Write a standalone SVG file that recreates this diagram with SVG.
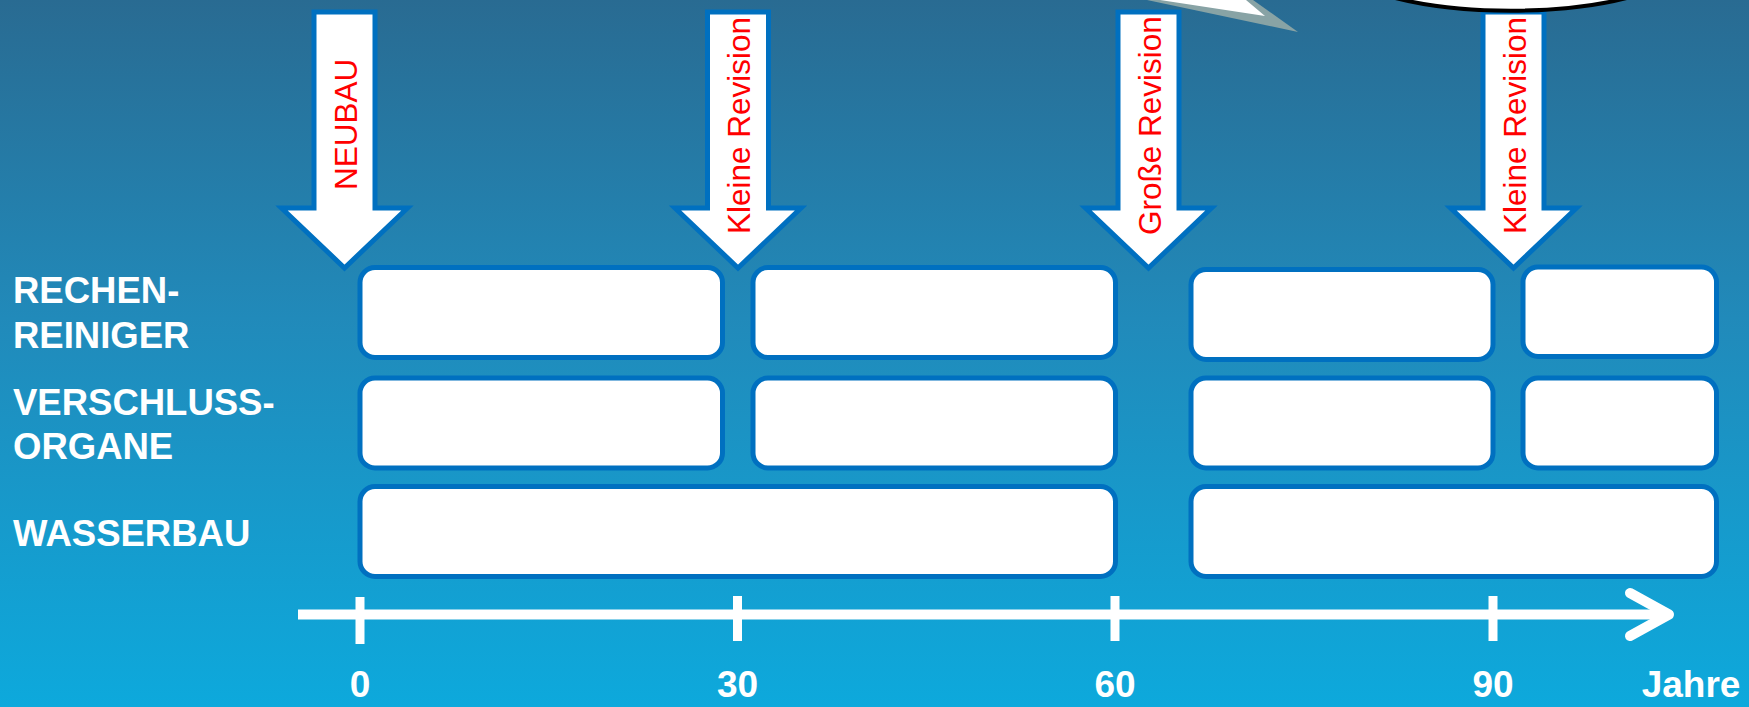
<svg xmlns="http://www.w3.org/2000/svg" width="1749" height="707" viewBox="0 0 1749 707">
  <defs>
    <linearGradient id="bg" x1="0" y1="0" x2="0" y2="1">
      <stop offset="0" stop-color="#296B92"/>
      <stop offset="0.45" stop-color="#218ABA"/>
      <stop offset="1" stop-color="#0DA9DC"/>
    </linearGradient>
    <path id="arrowShape" d="M-30.5,12 H30.5 V208 H63 L0,268 L-63,208 H-30.5 Z"/>
  </defs>
  <style>
    .arrow { fill: #FFFFFF; stroke: #0070C0; stroke-width: 5; stroke-linejoin: miter; }
    .alabel { font-family: "Liberation Sans", Arial, sans-serif; font-size: 31.5px; fill: #FF0000; }
    .box { fill: #FFFFFF; stroke: #0070C0; stroke-width: 5; }
    .rowlabel { font-family: "Liberation Sans", Arial, sans-serif; font-size: 36.5px; font-weight: bold; fill: #FFFFFF; }
    .axislabel { font-family: "Liberation Sans", Arial, sans-serif; font-size: 37px; font-weight: bold; fill: #FFFFFF; text-anchor: middle; }
    .axis { stroke: #FFFFFF; fill: none; }
  </style>

  <rect x="0" y="0" width="1749" height="707" fill="url(#bg)"/>

  <!-- callout fragments at top -->
  <g id="callout-tail">
    <polygon points="1147,0 1298,32 1253,0" fill="#88A3A5"/>
    <polygon points="1160,0 1265,16 1246,0" fill="#FFFFFF"/>
  </g>

  <!-- event arrows -->
  <g id="arrow-neubau">
    <use href="#arrowShape" class="arrow" transform="translate(344.5,0)"/>
    <text class="alabel" transform="translate(357,190) rotate(-90)">NEUBAU</text>
  </g>
  <g id="arrow-kleine-revision-1">
    <use href="#arrowShape" class="arrow" transform="translate(738,0)"/>
    <text class="alabel" transform="translate(750,234) rotate(-90)">Kleine Revision</text>
  </g>
  <g id="arrow-grosse-revision">
    <use href="#arrowShape" class="arrow" transform="translate(1148.5,0)"/>
    <text class="alabel" transform="translate(1161,235) rotate(-90)">Große Revision</text>
  </g>
  <g id="arrow-kleine-revision-2">
    <use href="#arrowShape" class="arrow" transform="translate(1513.5,0)"/>
    <text class="alabel" transform="translate(1526,234) rotate(-90)">Kleine Revision</text>
  </g>

  <g id="callout-ellipse">
    <ellipse cx="1511" cy="-47.3" rx="185" ry="58" fill="#FFFFFF" stroke="#000000" stroke-width="4"/>
  </g>

  <!-- row labels -->
  <g id="label-rechenreiniger">
    <text class="rowlabel" x="13" y="303">RECHEN-</text>
    <text class="rowlabel" x="13" y="348">REINIGER</text>
  </g>
  <g id="label-verschlussorgane">
    <text class="rowlabel" x="13" y="415">VERSCHLUSS-</text>
    <text class="rowlabel" x="13" y="459">ORGANE</text>
  </g>
  <g id="label-wasserbau">
    <text class="rowlabel" x="13" y="545.5">WASSERBAU</text>
  </g>

  <!-- row 1 -->
  <g id="box-r1-1"><rect class="box" x="360" y="267.5" width="362.5" height="90" rx="15"/></g>
  <g id="box-r1-2"><rect class="box" x="753" y="267.5" width="362.5" height="90" rx="15"/></g>
  <g id="box-r1-3"><rect class="box" x="1191" y="269.5" width="302" height="90" rx="15"/></g>
  <g id="box-r1-4"><rect class="box" x="1523" y="267" width="193.5" height="89.5" rx="15"/></g>
  <!-- row 2 -->
  <g id="box-r2-1"><rect class="box" x="360" y="378" width="362.5" height="90" rx="15"/></g>
  <g id="box-r2-2"><rect class="box" x="753" y="378" width="362.5" height="90" rx="15"/></g>
  <g id="box-r2-3"><rect class="box" x="1191" y="378" width="302" height="90" rx="15"/></g>
  <g id="box-r2-4"><rect class="box" x="1523" y="378" width="193.5" height="90" rx="15"/></g>
  <!-- row 3 -->
  <g id="box-r3-1"><rect class="box" x="360" y="486.5" width="755.5" height="90" rx="15"/></g>
  <g id="box-r3-2"><rect class="box" x="1191" y="486.5" width="525.5" height="90" rx="15"/></g>

  <!-- time axis -->
  <g id="connectors">
    <g id="axis" class="axis">
      <line x1="298" y1="614.5" x2="1668" y2="614.5" stroke-width="10"/>
      <polyline points="1630,593 1669,614.5 1630,636" stroke-width="10" stroke-linecap="round" stroke-linejoin="round"/>
      <line x1="360" y1="597" x2="360" y2="644" stroke-width="9"/>
      <line x1="737.5" y1="596" x2="737.5" y2="641" stroke-width="9"/>
      <line x1="1115" y1="596" x2="1115" y2="641" stroke-width="9"/>
      <line x1="1493" y1="596" x2="1493" y2="641" stroke-width="9"/>
    </g>
  </g>
  <g id="axis-labels">
    <text class="axislabel" x="360" y="697">0</text>
    <text class="axislabel" x="737.5" y="697">30</text>
    <text class="axislabel" x="1115" y="697">60</text>
    <text class="axislabel" x="1493" y="697">90</text>
    <text class="axislabel" x="1691" y="697">Jahre</text>
  </g>
</svg>
